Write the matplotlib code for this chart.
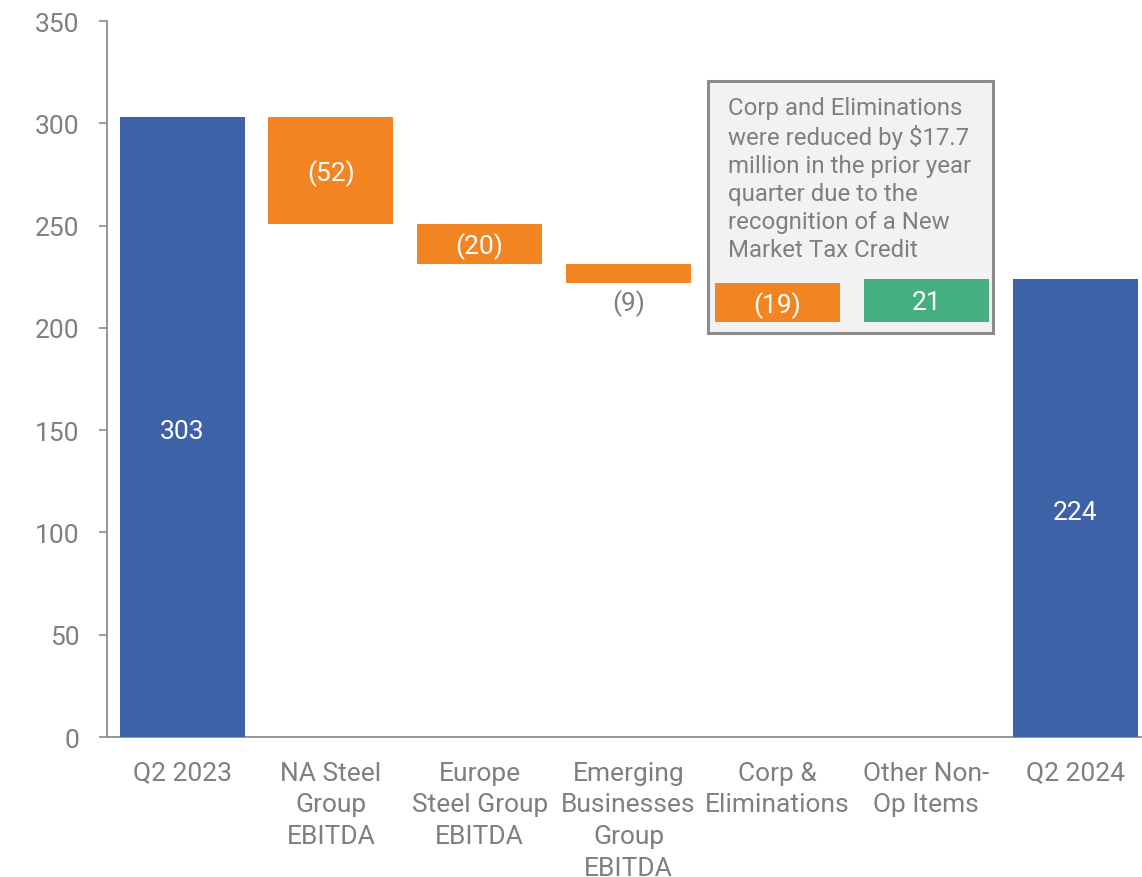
import matplotlib.pyplot as plt
import numpy as np

plt.rcParams['font.family'] = ['Roboto', 'DejaVu Sans']

categories = ["Q2 2023", "NA Steel\nGroup\nEBITDA", "Europe\nSteel Group\nEBITDA",
              "Emerging\nBusinesses\nGroup\nEBITDA", "Corp &\nEliminations",
              "Other Non-\nOp Items", "Q2 2024"]
start_value = 303
deltas = [-52, -20, -9, -19, 21]
end_value = 224
note = ("Corp and Eliminations\nwere reduced by $17.7\nmillion in the prior year\n"
        "quarter due to the\nrecognition of a New\nMarket Tax Credit")

blue = "#3D62A8"
orange = "#F28522"
green = "#45AF80"
grey = "#7F7F7F"

fig = plt.figure(figsize=(11.42, 8.78), dpi=100)
ax = fig.add_axes([107 / 1142, 1 - 738 / 878, 1035 / 1142, (738 - 22) / 878])

x = np.arange(len(categories))
w = 0.84

# totals
ax.bar(x[0], start_value, width=w, color=blue, zorder=3)
ax.bar(x[-1], end_value, width=w, color=blue, zorder=3)
ax.text(x[0], start_value / 2 - 2, str(start_value), ha="center", va="center", color="white", fontsize=19, zorder=4)
ax.text(x[-1], end_value / 2 - 2, str(end_value), ha="center", va="center", color="white", fontsize=19, zorder=4)

# steps
cum = start_value
for i, d in enumerate(deltas):
    xi = x[i + 1]
    col = orange if d < 0 else green
    ax.bar(xi, d, bottom=cum, width=w, color=col, zorder=3)
    lab = f"({abs(d)})" if d < 0 else str(d)
    mid = cum + d / 2
    if abs(d) < 12 and i < 3:
        ax.text(xi, cum + d - 3, lab, ha="center", va="top", color=grey, fontsize=19, zorder=4)
    else:
        ax.text(xi, mid - 1, lab, ha="center", va="center", color="white", fontsize=19, zorder=4)
    cum += d

# note box
box = plt.Rectangle((3.534, 197.5), 1.915, 123.3, facecolor="#F2F2F2", edgecolor="#8C8C8C",
                    linewidth=2.2, zorder=2)
ax.add_patch(box)
ax.text(3.669, 313.5, note, ha="left", va="top", color=grey, fontsize=17.3,
        linespacing=1.27, zorder=4)

ax.set_xlim(-0.504, 6.45)
ax.set_ylim(0, 350)
ax.set_yticks(np.arange(0, 351, 50))
ax.set_xticks(x)
ax.set_xticklabels(categories, fontsize=19, color=grey, linespacing=1.41)
ax.tick_params(axis="x", length=0, pad=17)
ax.tick_params(axis="y", length=6, width=1.2, color="#8C8C8C", labelsize=19, labelcolor=grey, pad=14)

for s in ["top", "right"]:
    ax.spines[s].set_visible(False)
for s in ["left", "bottom"]:
    ax.spines[s].set_color("#8C8C8C")
    ax.spines[s].set_linewidth(1.3)

fig.savefig("out.png", dpi=100)
